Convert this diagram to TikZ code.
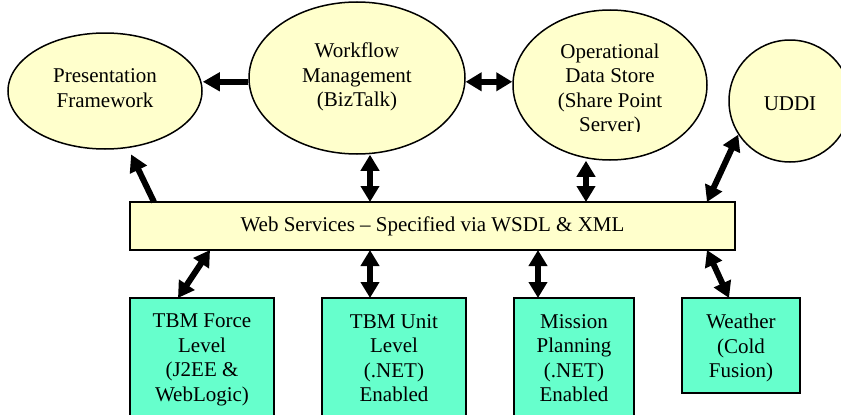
\documentclass[tikz,border=0pt]{standalone}
\usepackage{fontspec}
\setmainfont{Liberation Serif}
\usetikzlibrary{shapes.geometric,arrows.meta,calc}
\definecolor{ylw}{HTML}{FFFFCC}
\definecolor{grn}{HTML}{66FFCC}
\begin{document}
\begin{tikzpicture}[x=1pt,y=-1pt,
 txt/.style={font=\fontsize{21}{24.5}\selectfont, align=center, inner sep=0pt},
 oval/.style={ellipse, draw, line width=1.5pt, fill=ylw, inner sep=0pt},
 sbox/.style={rectangle, draw, line width=2pt, fill=grn, inner sep=0pt, outer sep=0pt, anchor=north west},
 arr/.style={line width=6pt, -{Triangle[length=17pt,width=18pt]}},
 darr/.style={line width=6pt, {Triangle[length=16pt,width=18pt]}-{Triangle[length=16pt,width=18pt]}}
]
\useasboundingbox (0,0) rectangle (841,415);
\clip (0,0) rectangle (841,415);
\fill[white] (0,0) rectangle (841,415);

% ovals
\node[oval, minimum width=194pt, minimum height=116pt] (pres) at (105,91) {};
\node[txt] (prest) at (105,88) {Presentation\\Framework};
\node[oval, minimum width=216pt, minimum height=152pt] (wf) at (357,78) {};
\node[txt] (wft) at (357,77) {Workflow\\Management\\(BizTalk)};
\node[oval, minimum width=194pt, minimum height=150pt] (ods) at (610,85) {};
\begin{scope}
 \clip (500,0) rectangle (720,131);
 \node[txt] (odst) at (610,90) {Operational\\Data Store\\(Share Point\\Server)};
\end{scope}
\node[oval, minimum width=122pt, minimum height=122pt] (uddi) at (790,101) {};
\node[txt] (uddit) at (790,104) {UDDI};

% web services bar
\node[draw, line width=2pt, fill=ylw, minimum width=605pt, minimum height=48pt, inner sep=0pt, outer sep=0pt, txt] (ws) at (432.5,226) {Web Services – Specified via WSDL \& XML};

% green boxes
\node[sbox, minimum width=144pt, minimum height=132pt] (b1) at (130,298) {};
\node[txt, anchor=north] (b1t) at (202,314) {TBM Force\\Level\\(J2EE \&\\WebLogic)};
\node[sbox, minimum width=144pt, minimum height=132pt] (b2) at (322,298) {};
\node[txt, anchor=north] (b2t) at (394,314) {TBM Unit\\Level\\(.NET)\\Enabled};
\node[sbox, minimum width=120pt, minimum height=132pt] (b3) at (514,298) {};
\node[txt, anchor=north] (b3t) at (574,314) {Mission\\Planning\\(.NET)\\Enabled};
\node[sbox, minimum width=118pt, minimum height=95pt] (b4) at (682,298) {};
\node[txt, anchor=north] (b4t) at (741,314) {Weather\\(Cold\\Fusion)};

% connectors
\draw[arr] (wf.182) -- (wf.182 -| pres.east);
\draw[darr] (wf.-2) -- (wf.-2 -| ods.west);
\draw[arr, shorten >=7pt] ([xshift=24pt]ws.north west) -- (pres.-68);
\draw[darr] ([xshift=13pt]wf.south) -- ([xshift=13pt]wf.south |- ws.north);
\draw[darr] ([xshift=-24pt]ods.south) -- ([xshift=-24pt]ods.south |- ws.north);
\draw[darr] ([xshift=-28pt]ws.north east) -- (uddi.213);
\draw[darr] ([xshift=80pt]ws.south west) -- ([xshift=48pt]b1.north west);
\draw[darr] ([xshift=-24pt]b2.north) -- ([xshift=-24pt]b2.north |- ws.south);
\draw[darr] ([xshift=-36pt]b3.north) -- ([xshift=-36pt]b3.north |- ws.south);
\draw[darr] ([xshift=-28pt]ws.south east) -- ([xshift=47pt]b4.north west);
\end{tikzpicture}
\end{document}
